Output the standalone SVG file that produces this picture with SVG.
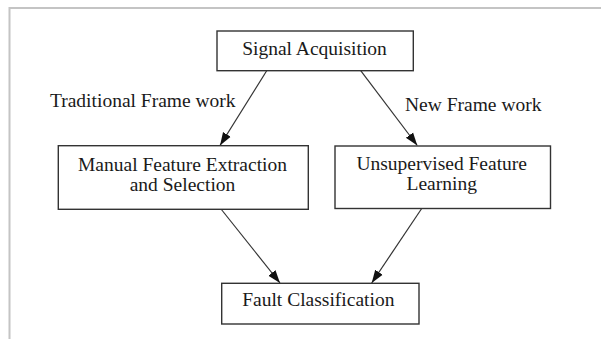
<svg xmlns="http://www.w3.org/2000/svg" width="601" height="339" viewBox="0 0 601 339">
<style>
.box{fill:#fff;stroke:#333;stroke-width:1.4}
.t{font-family:"Liberation Serif","Times New Roman",serif;font-size:19.5px;fill:#1a1a1a}
.m{text-anchor:middle}
.c{stroke:#333;stroke-width:1.2;fill:none}
</style>
<defs>
<marker id="ah" markerUnits="userSpaceOnUse" markerWidth="14" markerHeight="12" viewBox="0 0 14 12" refX="13" refY="6" orient="auto">
<path d="M0,1.5 L13,6 L0,10.5 Z" fill="#111"/>
</marker>
</defs>
<rect width="601" height="339" fill="#fff"/>
<path d="M9.5,339 V8 H601" fill="none" stroke="#c4c4c4" stroke-width="2"/>
<g id="connectors">
<line class="c" x1="266.7" y1="70.7" x2="220" y2="145.5" marker-end="url(#ah)"/>
<line class="c" x1="360.7" y1="70.7" x2="417.3" y2="145.5" marker-end="url(#ah)"/>
<line class="c" x1="221" y1="209" x2="280" y2="283" marker-end="url(#ah)"/>
<line class="c" x1="421.7" y1="208.5" x2="371.7" y2="283" marker-end="url(#ah)"/>
<text class="t" x="50" y="107.3">Traditional Frame work</text>
<text class="t" x="405" y="110.5">New Frame work</text>
</g>
<g id="signal">
<rect class="box" x="217" y="31" width="196.3" height="39.7"/>
<text class="t m" x="314.5" y="54.5">Signal Acquisition</text>
</g>
<g id="manual">
<rect class="box" x="58.3" y="145.7" width="250" height="63.6"/>
<text class="t m" x="182.5" y="170.7">Manual Feature Extraction</text>
<text class="t m" x="182.5" y="190.5">and Selection</text>
</g>
<g id="unsupervised">
<rect class="box" x="335" y="146" width="215.5" height="62.5"/>
<text class="t m" x="441.7" y="169.5">Unsupervised Feature</text>
<text class="t m" x="441.7" y="189.5">Learning</text>
</g>
<g id="fault">
<rect class="box" x="221.7" y="283.3" width="197.3" height="40.7"/>
<text class="t m" x="318.3" y="305.7">Fault Classification</text>
</g>
</svg>
